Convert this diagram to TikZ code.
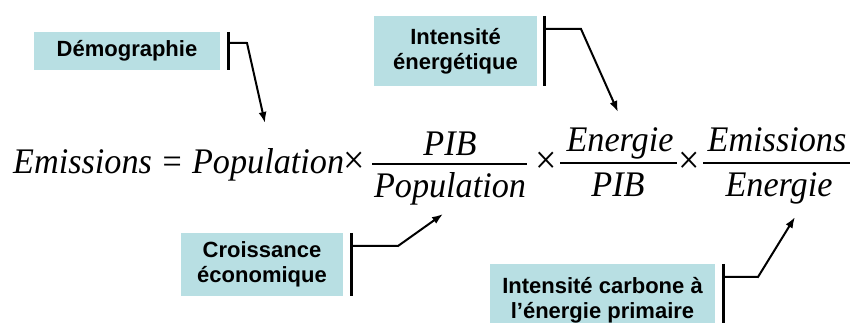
\documentclass[tikz,border=0pt]{standalone}
\usepackage{fontspec}
\setmainfont{Liberation Serif}
\newfontfamily\eqfont{Liberation Serif}[FakeStretch=0.95]
\newfontfamily\boxfont{Liberation Sans}
\usetikzlibrary{arrows.meta}
\definecolor{boxfill}{HTML}{B8DFE3}
\tikzset{
  labelbox/.style={fill=boxfill, inner sep=0pt, align=center,
    font=\boxfont\bfseries\fontsize{22}{25}\selectfont},
  eqtext/.style={inner sep=0pt, font=\eqfont\itshape\fontsize{36}{40}\selectfont},
  timesop/.style={inner sep=0pt, font=\eqfont\upshape\fontsize{40}{44}\selectfont},
  fracbar/.style={line width=2.3pt},
  bracket/.style={line width=2.8pt},
  pointer/.style={line width=2pt, -{Latex[length=11pt,width=8pt]}},
}
\begin{document}
\begin{tikzpicture}[x=1pt,y=-1pt]
\clip (0,0) rectangle (854,323);
\fill[white] (0,0) rectangle (854,323);

% equation
\node[eqtext, anchor=base west] (lhs) at (13,174) {Emissions = Population};
\node[timesop, anchor=base] (x1) at (354,174) {×};
\coordinate (f1l) at (372,164);
\coordinate (f1r) at (527,164);
\draw[fracbar] (f1l) -- (f1r);
\node[eqtext, anchor=base] (f1num) at (450,156) {PIB};
\node[eqtext, anchor=base] (f1den) at (450,198) {Population};
\node[timesop, anchor=base] (x2) at (546,174) {×};
\coordinate (f2l) at (560,163);
\coordinate (f2r) at (677,163);
\draw[fracbar] (f2l) -- (f2r);
\node[eqtext, anchor=base] (f2num) at (620,152) {Energie};
\node[eqtext, anchor=base] (f2den) at (618,197) {PIB};
\node[timesop, anchor=base] (x3) at (689,174) {×};
\coordinate (f3l) at (703,163);
\coordinate (f3r) at (850,163);
\draw[fracbar] (f3l) -- (f3r);
\node[eqtext, anchor=base] (f3num) at (777,152) {Emissions};
\node[eqtext, anchor=base] (f3den) at (779,197) {Energie};

% label boxes
\node[labelbox, minimum width=186pt, minimum height=38pt] (demo) at (127,51) {Démographie};
\node[labelbox, minimum width=163pt, minimum height=70pt] (inten) at (455.5,51) {Intensité\\énergétique};
\node[labelbox, minimum width=162pt, minimum height=63pt] (crois) at (262,264.5) {Croissance\\économique};
\node[labelbox, minimum width=225pt, minimum height=72pt] (carb) at (602.5,300) {Intensité carbone à\\l’énergie primaire};

% brackets
\draw[bracket] ([xshift=8pt]demo.north east) -- ([xshift=8pt]demo.south east);
\draw[bracket] ([xshift=7pt]inten.north east) -- ([xshift=7pt]inten.south east);
\draw[bracket] ([xshift=8pt]crois.north east) -- ([xshift=8pt]crois.south east);
\draw[bracket] ([xshift=8pt]carb.north east) -- ([xshift=8pt]carb.south east);

% pointers
\coordinate (demoknee) at (247,43);
\coordinate (demotip) at (265,123);
\draw[pointer] ([xshift=8pt,yshift=-11pt]demo.north east) -- (demoknee) -- (demotip);
\coordinate (intenknee) at (581,29);
\coordinate (intentip) at (618,112);
\draw[pointer] ([xshift=7pt,yshift=-13pt]inten.north east) -- (intenknee) -- (intentip);
\coordinate (croisknee) at (398,246);
\coordinate (croistip) at (443,214);
\draw[pointer] ([xshift=8pt,yshift=-13pt]crois.north east) -- (croisknee) -- (croistip);
\coordinate (carbknee) at (758,277);
\coordinate (carbtip) at (795,217);
\draw[pointer] ([xshift=8pt,yshift=-13pt]carb.north east) -- (carbknee) -- (carbtip);
\end{tikzpicture}
\end{document}
